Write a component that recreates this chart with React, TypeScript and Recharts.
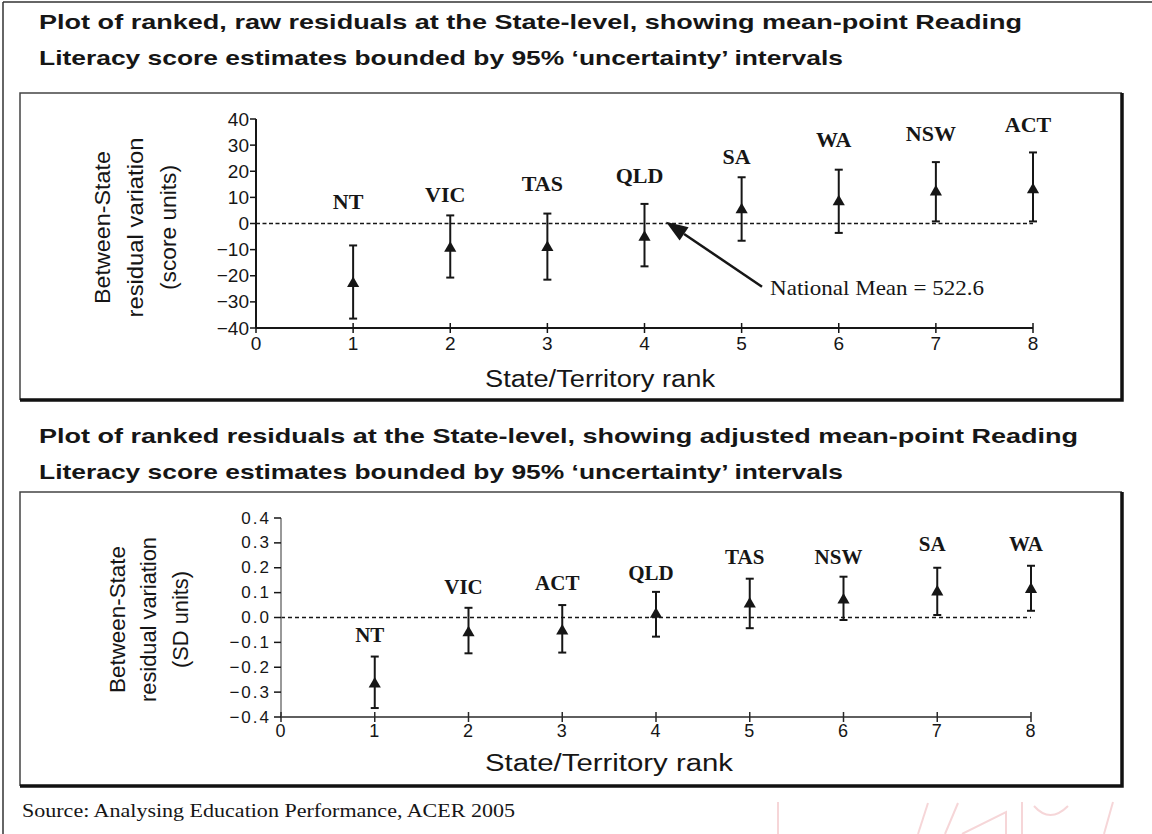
import React from 'react';
import {
  ScatterChart,
  Scatter,
  XAxis,
  YAxis,
  ZAxis,
  ErrorBar,
  ReferenceLine,
  Label,
} from 'recharts';

// rank positions on the x axis
const rankTicks = [0, 1, 2, 3, 4, 5, 6, 7, 8];
const ranks = [1, 2, 3, 4, 5, 6, 7, 8];

// raw residuals, score units
const rawStates = ['NT', 'VIC', 'TAS', 'QLD', 'SA', 'WA', 'NSW', 'ACT'];
const rawMean = [-23, -9.5, -9.2, -5.3, 5.3, 8.3, 12.1, 12.9];
const rawLow = [-36.4, -20.7, -21.5, -16.4, -6.6, -3.6, 0.8, 0.8];
const rawHigh = [-8.4, 3.1, 3.8, 7.5, 17.7, 20.6, 23.5, 27.2];
const rawLabelAt = [8.3, 11, 15.2, 18.3, 25.6, 32, 34.4, 37.8];
const rawTicks = [-40, -30, -20, -10, 0, 10, 20, 30, 40];
const nationalMean = 522.6;

// adjusted residuals, SD units
const adjStates = ['NT', 'VIC', 'ACT', 'QLD', 'TAS', 'NSW', 'SA', 'WA'];
const adjMean = [-0.267, -0.061, -0.054, 0.013, 0.054, 0.07, 0.103, 0.113];
const adjLow = [-0.364, -0.144, -0.141, -0.077, -0.043, -0.01, 0.01, 0.027];
const adjHigh = [-0.157, 0.039, 0.05, 0.103, 0.156, 0.164, 0.2, 0.208];
const adjLabelAt = [-0.07, 0.123, 0.137, 0.177, 0.244, 0.244, 0.295, 0.295];
const adjTicks = [-0.4, -0.3, -0.2, -0.1, 0, 0.1, 0.2, 0.3, 0.4];

const INK = '#161616';
const SANS = '"Liberation Sans", Arial, Helvetica, sans-serif';
const SERIF = '"Liberation Serif", "Times New Roman", serif';

const minus = (s: string) => s.replace('-', '\u2212');

function makeXTick(fs: number, spacing: number, labelDy: number, stroke: string) {
  return (p: any) => (
    <g>
      <line x1={p.x} x2={p.x} y1={p.y - 5} y2={p.y + 5} stroke={stroke} strokeWidth={1.5} />
      <text
        x={p.x}
        y={p.y + labelDy}
        textAnchor="middle"
        dominantBaseline="central"
        fontFamily={SANS}
        fontSize={fs}
        letterSpacing={spacing}
        fill={INK}
      >
        {p.payload.value}
      </text>
    </g>
  );
}

function makeYTick(fs: number, spacing: number, len: number, fmt: (v: number) => string) {
  return (p: any) => (
    <g>
      <line x1={p.x - len} x2={p.x} y1={p.y} y2={p.y} stroke={INK} strokeWidth={1.5} />
      <text
        x={p.x - len - 1 - spacing}
        y={p.y}
        textAnchor="end"
        dominantBaseline="central"
        fontFamily={SANS}
        fontSize={fs}
        letterSpacing={spacing}
        fill={INK}
      >
        {fmt(p.payload.value)}
      </text>
    </g>
  );
}

function makeStateLabel(fs: number) {
  return (p: any) => (
    <text
      x={p.cx - 5}
      y={p.cy}
      textAnchor="middle"
      dominantBaseline="central"
      fontFamily={SERIF}
      fontWeight="bold"
      fontSize={fs}
      fill={INK}
    >
      {p.payload.state}
    </text>
  );
}

// arrow pointing at the dashed national-mean line, with its caption
function meanArrow(p: any) {
  const { x1, y1, x2, y2 } = p;
  const dx = x2 - x1;
  const dy = y2 - y1;
  const len = Math.sqrt(dx * dx + dy * dy);
  const ux = dx / len;
  const uy = dy / len;
  const head = 22;
  const half = 8;
  const bx = x2 - ux * head;
  const by = y2 - uy * head;
  return (
    <g>
      <line x1={x1} y1={y1} x2={bx} y2={by} stroke={INK} strokeWidth={2.5} />
      <polygon
        points={`${x2},${y2} ${bx - uy * half},${by + ux * half} ${bx + uy * half},${by - ux * half}`}
        fill={INK}
      />
      <text
        x={x1 + 8}
        y={y1 + 1}
        dominantBaseline="central"
        fontFamily={SERIF}
        fontSize={21}
        textLength={214}
        lengthAdjust="spacingAndGlyphs"
        fill={INK}
      >
        {`National Mean = ${nationalMean}`}
      </text>
    </g>
  );
}

interface TitleLine {
  text: string;
  dx: number;
  len: number;
}

function yTitle(lines: TitleLine[], fs: number, dy: number) {
  return (props: any) => {
    const vb = props.viewBox;
    const cy = vb.y + vb.height / 2 + dy;
    return (
      <g>
        {lines.map((l) => (
          <text
            key={l.text}
            x={vb.x + l.dx}
            y={cy}
            transform={`rotate(-90 ${vb.x + l.dx} ${cy})`}
            textAnchor="middle"
            dominantBaseline="central"
            fontFamily={SANS}
            fontSize={fs}
            textLength={l.len}
            lengthAdjust="spacingAndGlyphs"
            fill={INK}
          >
            {l.text}
          </text>
        ))}
      </g>
    );
  };
}

function xTitle(dx: number, dy: number, len: number) {
  return (props: any) => {
    const vb = props.viewBox;
    return (
      <text
        x={vb.x + dx}
        y={vb.y + dy}
        textAnchor="middle"
        dominantBaseline="central"
        fontFamily={SANS}
        fontSize={23}
        textLength={len}
        lengthAdjust="spacingAndGlyphs"
        fill={INK}
      >
        State/Territory rank
      </text>
    );
  };
}

function RawPanel() {
  const points = ranks.map((r, i) => ({
    x: r,
    y: rawMean[i],
    err: [rawMean[i] - rawLow[i], rawHigh[i] - rawMean[i]],
  }));
  const labels = ranks.map((r, i) => ({ x: r, y: rawLabelAt[i], state: rawStates[i] }));
  return (
    <div style={{ position: 'absolute', left: 20, top: 93 }}>
      <ScatterChart width={1102} height={307} margin={{ top: 26, right: 89, bottom: 0, left: 0 }}>
        <XAxis
          type="number"
          dataKey="x"
          domain={[0, 8]}
          ticks={rankTicks}
          interval={0}
          height={72}
          axisLine={{ stroke: INK, strokeWidth: 2 }}
          tickLine={false}
          tickSize={0}
          tickMargin={0}
          tick={makeXTick(19, 0, 15, INK)}
        >
          <Label content={xTitle(344, 51, 230)} />
        </XAxis>
        <YAxis
          type="number"
          dataKey="y"
          domain={[-40, 40]}
          ticks={rawTicks}
          interval={0}
          width={236}
          axisLine={{ stroke: INK, strokeWidth: 2 }}
          tickLine={false}
          tickSize={0}
          tickMargin={0}
          tick={makeYTick(19, 0, 6, (v) => minus(String(v)))}
        >
          <Label
            content={yTitle(
              [
                { text: 'Between-State', dx: 82, len: 153 },
                { text: 'residual variation', dx: 115, len: 180 },
                { text: '(score units)', dx: 148, len: 125 },
              ],
              22,
              4
            )}
          />
        </YAxis>
        <ZAxis range={[40, 40]} />
        <ReferenceLine y={0} stroke={INK} strokeWidth={1.5} strokeDasharray="4 2.5" />
        <ReferenceLine
          segment={[
            { x: 5.21, y: -24.2 },
            { x: 4.22, y: 0.7 },
          ]}
          shape={meanArrow}
        />
        <Scatter data={points} fill={INK} shape="triangle" isAnimationActive={false}>
          <ErrorBar dataKey="err" direction="y" width={4} stroke={INK} strokeWidth={2} />
        </Scatter>
        <Scatter data={labels} shape={makeStateLabel(22)} isAnimationActive={false} />
      </ScatterChart>
    </div>
  );
}

function AdjPanel() {
  const points = ranks.map((r, i) => ({
    x: r,
    y: adjMean[i],
    err: [adjMean[i] - adjLow[i], adjHigh[i] - adjMean[i]],
  }));
  const labels = ranks.map((r, i) => ({ x: r, y: adjLabelAt[i], state: adjStates[i] }));
  return (
    <div style={{ position: 'absolute', left: 20, top: 492 }}>
      <ScatterChart width={1102} height={294} margin={{ top: 26, right: 91, bottom: 0, left: 0 }}>
        <XAxis
          type="number"
          dataKey="x"
          domain={[0, 8]}
          ticks={rankTicks}
          interval={0}
          height={69}
          axisLine={{ stroke: '#2a2a2a', strokeWidth: 1.5 }}
          tickLine={false}
          tickSize={0}
          tickMargin={0}
          tick={makeXTick(18, 1, 14, '#2a2a2a')}
        >
          <Label content={xTitle(328, 46, 248)} />
        </XAxis>
        <YAxis
          type="number"
          dataKey="y"
          domain={[-0.4, 0.4]}
          ticks={adjTicks}
          interval={0}
          width={261}
          axisLine={{ stroke: '#777', strokeWidth: 1.5 }}
          tickLine={false}
          tickSize={0}
          tickMargin={0}
          tick={makeYTick(17, 2, 7, (v) => minus(v.toFixed(1)))}
        >
          <Label
            content={yTitle(
              [
                { text: 'Between-State', dx: 97, len: 147 },
                { text: 'residual variation', dx: 128, len: 165 },
                { text: '(SD units)', dx: 160, len: 97 },
              ],
              22,
              2
            )}
          />
        </YAxis>
        <ZAxis range={[40, 40]} />
        <ReferenceLine y={0} stroke={INK} strokeWidth={1.3} strokeDasharray="4 3" />
        <Scatter data={points} fill={INK} shape="triangle" isAnimationActive={false}>
          <ErrorBar dataKey="err" direction="y" width={4} stroke={INK} strokeWidth={2} />
        </Scatter>
        <Scatter data={labels} shape={makeStateLabel(21)} isAnimationActive={false} />
      </ScatterChart>
    </div>
  );
}

function PageFrame() {
  const title = (text: string, y: number, len: number) => (
    <text
      x={39}
      y={y}
      fontFamily={SANS}
      fontWeight="bold"
      fontSize={21}
      textLength={len}
      lengthAdjust="spacingAndGlyphs"
      fill={INK}
    >
      {text}
    </text>
  );
  return (
    <svg width={1152} height={834} style={{ position: 'absolute', left: 0, top: 0 }}>
      <rect width={1152} height={834} fill="#fff" />
      <line x1={3} y1={2} x2={1152} y2={2} stroke="#333" strokeWidth={1.5} />
      <line x1={3} y1={2} x2={3} y2={834} stroke="#333" strokeWidth={1.5} />
      {title('Plot of ranked, raw residuals at the State-level, showing mean-point Reading', 29, 983)}
      {title('Literacy score estimates bounded by 95% \u2018uncertainty\u2019 intervals', 65, 804)}
      {title('Plot of ranked residuals at the State-level, showing adjusted mean-point Reading', 443, 1039)}
      {title('Literacy score estimates bounded by 95% \u2018uncertainty\u2019 intervals', 479, 804)}
      {/* chart boxes */}
      <path d="M20,400 L20,93 L1122,93" fill="none" stroke="#444" strokeWidth={1.5} />
      <path d="M1122,93 L1122,400 L20,400" fill="none" stroke="#111" strokeWidth={3.5} />
      <path d="M20,786 L20,492 L1122,492" fill="none" stroke="#444" strokeWidth={1.5} />
      <path d="M1122,492 L1122,786 L20,786" fill="none" stroke="#111" strokeWidth={3.5} />
      <text
        x={22}
        y={817}
        fontFamily={SERIF}
        fontSize={19}
        textLength={493}
        lengthAdjust="spacingAndGlyphs"
        fill={INK}
      >
        Source: Analysing Education Performance, ACER 2005
      </text>
      {/* faint pink scan marks */}
      <g stroke="#f6d6d8" strokeWidth={2} fill="none">
        <path d="M778,802 L778,834" />
        <path d="M918,834 L928,803" />
        <path d="M945,834 L958,803" />
        <path d="M962,834 L1006,812 L1006,834" />
        <path d="M1022,802 L1022,834" />
        <path d="M1034,806 Q1050,824 1068,806" />
        <path d="M1104,834 L1113,802" />
      </g>
    </svg>
  );
}

export default function App() {
  return (
    <div style={{ position: 'absolute', left: 0, top: 0, width: 1152, height: 834, background: '#fff' }}>
      <PageFrame />
      <RawPanel />
      <AdjPanel />
    </div>
  );
}
